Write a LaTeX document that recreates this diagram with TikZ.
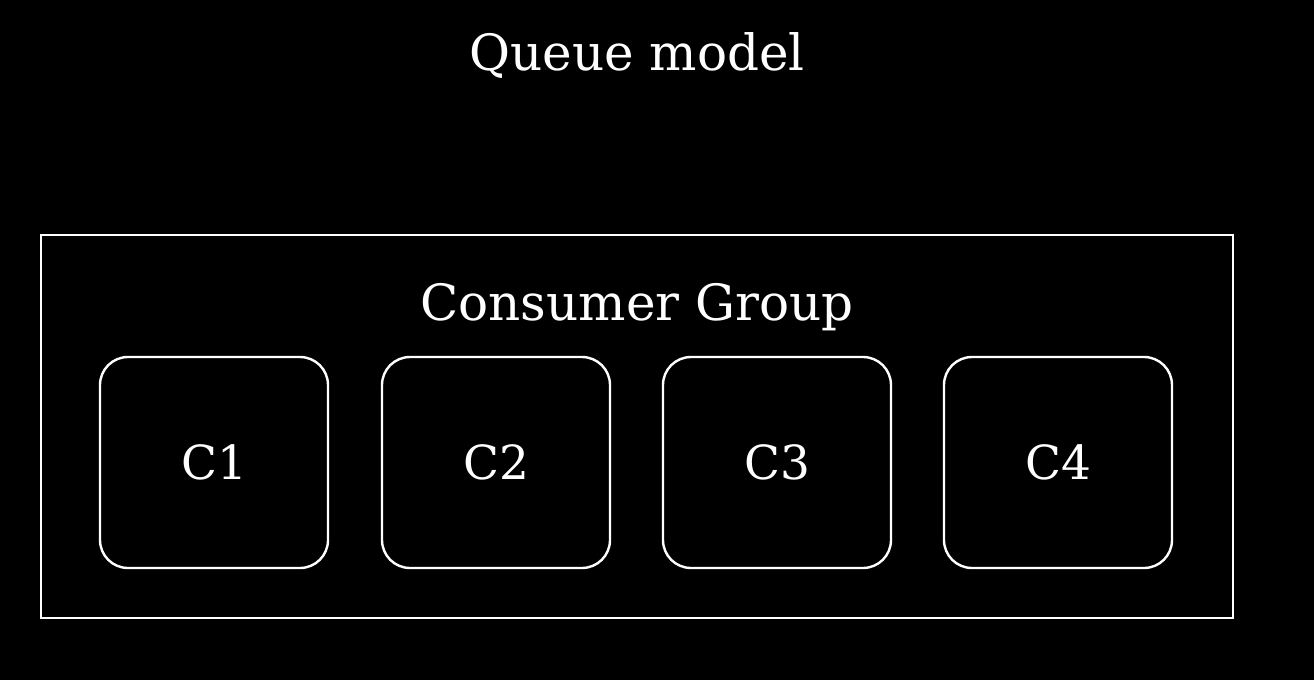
\documentclass[tikz,border=0pt]{standalone}
\usepackage{fontspec}
\setmainfont{DejaVu Serif}
\usetikzlibrary{positioning}

\begin{document}
\begin{tikzpicture}[x=0.5pt, y=-0.5pt,
title/.style={text=white, font=\fontsize{25}{30}\selectfont, anchor=base, inner sep=0pt},
cbox/.style={draw=white, line width=1.2pt, rounded corners=14pt, minimum width=114pt, minimum height=105.5pt, text=white, font=\fontsize{23.5}{28}\selectfont}]
% background
\fill[black] (0,0) rectangle (1314,680);
\useasboundingbox (0,0) rectangle (1314,680);

% titles
\node [title] (queue) at (637,70) {Queue model};
\node [draw=white, line width=1.2pt, minimum width=596pt, minimum height=191.5pt] (group) at (637,426.5) {};
\node [title] (grouplabel) at (637,320) {Consumer Group};

% consumers
\node [cbox] (c1) at (214,462.5) {C1};
\node [cbox] (c2) at (496,462.5) {C2};
\node [cbox] (c3) at (777,462.5) {C3};
\node [cbox] (c4) at (1058,462.5) {C4};

\end{tikzpicture}
\end{document}
